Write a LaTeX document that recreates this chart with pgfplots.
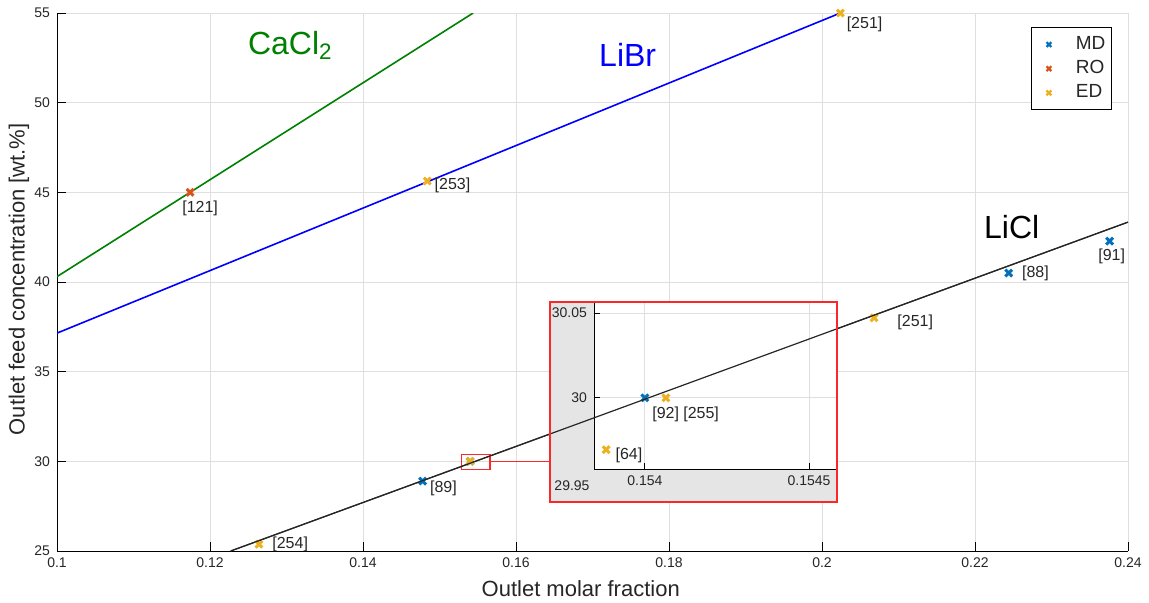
\documentclass[border=0pt]{standalone}
\usepackage{fontspec}
\setmainfont{Liberation Sans}
\usepackage{pgfplots}
\pgfplotsset{compat=1.18}
\definecolor{mdc}{rgb}{0,0.447,0.741}
\definecolor{roc}{rgb}{0.85,0.325,0.098}
\definecolor{edc}{rgb}{0.929,0.694,0.125}
\definecolor{cagreen}{rgb}{0,0.5,0}
\definecolor{gridc}{RGB}{223,223,223}
\definecolor{txtc}{RGB}{38,38,38}
\definecolor{insetbg}{RGB}{229,229,229}
\definecolor{boxred}{RGB}{250,40,40}
\pgfplotsset{
  mdstyle/.style={only marks, mark=x, mark size=2.4pt, mark options={line width=1.5pt, mdc}, color=mdc},
  rostyle/.style={only marks, mark=x, mark size=2.4pt, mark options={line width=1.5pt, roc}, color=roc},
  edstyle/.style={only marks, mark=x, mark size=2.4pt, mark options={line width=1.5pt, edc}, color=edc},
}
\tikzset{lab/.style={font=\fontsize{8}{9}\selectfont, text=txtc, inner sep=0pt}}
\begin{document}
\begin{tikzpicture}
\path[use as bounding box] (-28.5pt,-25.5pt) rectangle (546pt,275.5pt);
% ---------------- main axis ----------------
\begin{axis}[
  at={(0,0)}, anchor=south west, scale only axis,
  width=535.5pt, height=269pt,
  xmin=0.1, xmax=0.24, ymin=25, ymax=55,
  xtick={0.1,0.12,0.14,0.16,0.18,0.2,0.22,0.24},
  xticklabels={0.1,0.12,0.14,0.16,0.18,0.2,0.22,0.24},
  ytick={25,30,35,40,45,50,55},
  scaled ticks=false,
  grid=major, grid style={gridc, line width=0.5pt},
  axis x line*=bottom, axis y line*=left, axis line style={-, black, line width=0.5pt},
  tick align=inside, major tick length=4.5pt, tick style={black, line width=0.5pt},
  tick label style={font=\fontsize{7}{8}\selectfont, text=txtc},
  /pgf/number format/assume math mode=true,
  xlabel={Outlet molar fraction},
  ylabel={Outlet feed concentration [wt.\%]},
  label style={font=\fontsize{11}{13}\selectfont, text=txtc},
  xlabel style={at={(axis description cs:0.489,-0.0706)}, anchor=center},
  ylabel style={at={(axis description cs:-0.0355,0.505)}, anchor=center},
  clip mode=individual,
  legend style={at={(rel axis cs:0.985,0.974)}, anchor=north east, draw=black, line width=0.5pt,
    font=\fontsize{9.5}{11}\selectfont, text=txtc, row sep=0pt, inner xsep=1pt, inner ysep=2.5pt},
  legend cell align=left,
  legend image code/.code={\path[draw=none] (0pt,0pt) -- (19pt,0pt);
     \draw[#1, mark size=1.7pt, mark options={line width=1.1pt}] plot coordinates {(7.5pt,0pt)};},
]
% lines
\addplot[cagreen, line width=0.8pt, forget plot] coordinates {(0.1,40.3) (0.1544,55)};
\addplot[blue, line width=0.8pt, forget plot] coordinates {(0.1,37.15) (0.2024,55)};
\addplot[black!85, line width=0.6pt, forget plot] coordinates {(0.1227,25) (0.24,43.34)};
% points
\addplot[mdstyle] coordinates {(0.1478,28.9) (0.154,30) (0.2244,40.5) (0.2376,42.28)};
\addlegendentry{MD}
\addplot[rostyle] coordinates {(0.1174,45)};
\addlegendentry{RO}
\addplot[edstyle] coordinates {(0.1264,25.38) (0.154,30) (0.2068,38.0) (0.1484,45.63) (0.2024,55)};
\addlegendentry{ED}
% point labels
\node[lab, anchor=west, xshift=3pt, yshift=-5.5pt] at (axis cs:0.2024,55) {[251]};
\node[lab, anchor=west, xshift=3.5pt, yshift=-2pt] at (axis cs:0.1484,45.63) {[253]};
\node[lab, anchor=north, xshift=5pt, yshift=-4pt] at (axis cs:0.1174,45) {[121]};
\node[lab, anchor=west, xshift=6.5pt, yshift=0pt] at (axis cs:0.1264,25.38) {[254]};
\node[lab, anchor=west, xshift=3.5pt, yshift=-3.5pt] at (axis cs:0.1478,28.9) {[89]};
\node[lab, anchor=west, xshift=11.5pt, yshift=-2pt] at (axis cs:0.2068,38.0) {[251]};
\node[lab, anchor=west, xshift=6.5pt, yshift=0pt] at (axis cs:0.2244,40.5) {[88]};
\node[lab, anchor=north, xshift=1pt, yshift=-3.5pt] at (axis cs:0.2376,42.28) {[91]};
% salt names
\node[font=\fontsize{16}{18}\selectfont, text=cagreen] at (axis cs:0.1305,53.2) {CaCl\textsubscript{2}};
\node[font=\fontsize{16}{18}\selectfont, text=blue] at (axis cs:0.1746,52.66) {LiBr};
\node[font=\fontsize{16}{18}\selectfont, text=black] at (axis cs:0.2248,43.05) {LiCl};
% zoom box
\draw[boxred, line width=0.6pt] (axis cs:0.1529,30.39) rectangle (axis cs:0.1566,29.55);
\draw[boxred, line width=0.6pt] (axis cs:0.1566,29.97) -- (axis cs:0.16458,29.97);
\end{axis}
% ---------------- inset ----------------
\fill[insetbg] (246.5pt,24.5pt) rectangle (390pt,124.5pt);
\begin{axis}[
  at={(268.5pt,41pt)}, anchor=south west, scale only axis,
  width=121.5pt, height=83.5pt,
  xmin=0.153845, xmax=0.154585, ymin=29.958, ymax=30.0565,
  xtick={0.154,0.1545}, xticklabels={0.154,0.1545},
  ytick={30,30.05}, yticklabels={30,30.05},
  scaled ticks=false,
  grid=major, grid style={gridc, line width=0.5pt},
  axis x line*=bottom, axis y line*=left, axis line style={-, black, line width=0.5pt},
  tick align=inside, major tick length=3pt, tick style={black, line width=0.5pt},
  tick label style={font=\fontsize{7}{8}\selectfont, text=txtc},
  /pgf/number format/assume math mode=true,
  axis background/.style={fill=white},
  clip mode=individual,
]
\addplot[mdstyle] coordinates {(0.154,30)};
\addplot[edstyle] coordinates {(0.153882,29.9694) (0.154064,30)};
\node[lab, anchor=west, xshift=3.5pt, yshift=-8.5pt] at (axis cs:0.154,30) {[92]};
\node[lab, anchor=west, xshift=8.5pt, yshift=-8.5pt] at (axis cs:0.154064,30) {[255]};
\node[lab, anchor=west, xshift=4.5pt, yshift=-3pt] at (axis cs:0.153882,29.9694) {[64]};
\end{axis}
\node[font=\fontsize{7}{8}\selectfont, text=txtc] at (257.5pt,32.5pt) {29.95};
% overlay of LiCl line on top of inset
\begin{axis}[
  at={(0,0)}, anchor=south west, scale only axis,
  width=535.5pt, height=269pt,
  xmin=0.1, xmax=0.24, ymin=25, ymax=55, hide axis,
]
\addplot[black!85, line width=0.6pt] coordinates {(0.1227,25) (0.24,43.34)};
\end{axis}
\draw[boxred, line width=0.6pt] (246.5pt,24.5pt) rectangle (390pt,124.5pt);
\end{tikzpicture}
\end{document}
